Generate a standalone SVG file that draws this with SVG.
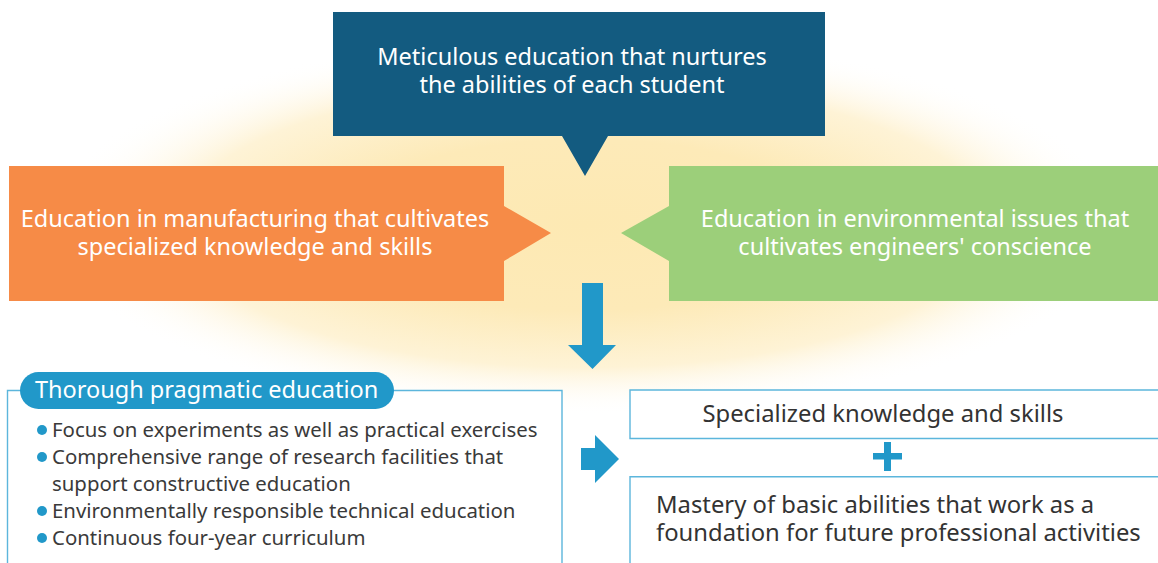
<svg xmlns="http://www.w3.org/2000/svg" width="1158" height="563" viewBox="0 0 1158 563">
  <defs>
    <radialGradient id="glow" cx="585" cy="225" r="1" gradientUnits="userSpaceOnUse" gradientTransform="translate(585 225) scale(540 190) translate(-585 -225)">
      <stop offset="0" stop-color="#fde9b3"/>
      <stop offset="0.45" stop-color="#fdeab8"/>
      <stop offset="0.75" stop-color="#fef3d6"/>
      <stop offset="1" stop-color="#ffffff" stop-opacity="0"/>
    </radialGradient>
    <style>
      text { font-family: "Noto Sans", "Open Sans", "DejaVu Sans", sans-serif; }
      .head { fill: #ffffff; font-size: 23.5px; text-anchor: middle; }
      .pill { fill: #ffffff; font-size: 23.5px; }
      .item { fill: #3a3a3a; font-size: 20.4px; }
      .res { fill: #333333; font-size: 23.8px; }
      .frame { fill: #ffffff; stroke: #5cb6dc; stroke-width: 1.4; }
      .blue { fill: #2198c9; }
    </style>
  </defs>

  <rect width="1158" height="563" fill="#ffffff"/>
  <!-- warm glow behind the three themes -->
  <ellipse cx="585" cy="225" rx="540" ry="190" fill="url(#glow)"/>

  <!-- top theme with downward pointer -->
  <g id="node-meticulous">
    <path d="M333 12 H825 V136 H608 L585 176 L562 136 H333 Z" fill="#135b80"/>
    <text class="head"><tspan x="572" y="65">Meticulous education that nurtures</tspan><tspan x="572" y="93">the abilities of each student</tspan></text>
  </g>

  <!-- left theme pointing right -->
  <g id="node-manufacturing">
    <path d="M9 166 H504 V206 L551 233 L504 261 V301 H9 Z" fill="#f68b47"/>
    <text class="head"><tspan x="255" y="227">Education in manufacturing that cultivates</tspan><tspan x="255" y="255">specialized knowledge and skills</tspan></text>
  </g>

  <!-- right theme pointing left -->
  <g id="node-environment">
    <path d="M1158 166 H669 V206 L621 233 L669 261 V301 H1158 Z" fill="#9ccf7a"/>
    <text class="head"><tspan x="915" y="227">Education in environmental issues that</tspan><tspan x="915" y="255">cultivates engineers' conscience</tspan></text>
  </g>

  <!-- pragmatic education panel -->
  <g id="node-pragmatic">
    <path class="frame" d="M7.5 563 V390.5 H562 V563"/>
    <rect x="20" y="372" width="374" height="37" rx="18.5" fill="#2198c9"/>
    <text class="pill" x="35" y="398">Thorough pragmatic education</text>
    <g fill="#2198c9">
      <circle cx="42" cy="430" r="5"/>
      <circle cx="42" cy="457" r="5"/>
      <circle cx="42" cy="511" r="5"/>
      <circle cx="42" cy="538" r="5"/>
    </g>
    <text class="item" x="52" y="437">Focus on experiments as well as practical exercises</text>
    <text class="item"><tspan x="52" y="464">Comprehensive range of research facilities that</tspan><tspan x="52" y="491">support constructive education</tspan></text>
    <text class="item" x="52" y="518">Environmentally responsible technical education</text>
    <text class="item" x="52" y="545">Continuous four-year curriculum</text>
  </g>

  <!-- outcome boxes -->
  <g id="node-skills">
    <path class="frame" d="M1158 390 H630 V438.5 H1158"/>
    <text class="res" x="883" y="422" text-anchor="middle">Specialized knowledge and skills</text>
  </g>

  <g id="node-plus">
    <rect class="blue" x="873" y="453" width="29" height="6.5"/>
    <rect class="blue" x="884" y="442" width="7" height="29"/>
  </g>

  <g id="node-mastery">
    <path class="frame" d="M1158 476.7 H630 V563"/>
    <text class="res"><tspan x="656" y="513">Mastery of basic abilities that work as a</tspan><tspan x="656" y="541">foundation for future professional activities</tspan></text>
  </g>

  <!-- flow arrows -->
  <g id="connectors">
    <path class="blue" d="M582 283 H603 V345 H616 L592.5 369 L568 345 H582 Z"/>
    <path class="blue" d="M581 448 H595 V435 L619 459 L595 483 V470 H581 Z"/>
  </g>
</svg>
